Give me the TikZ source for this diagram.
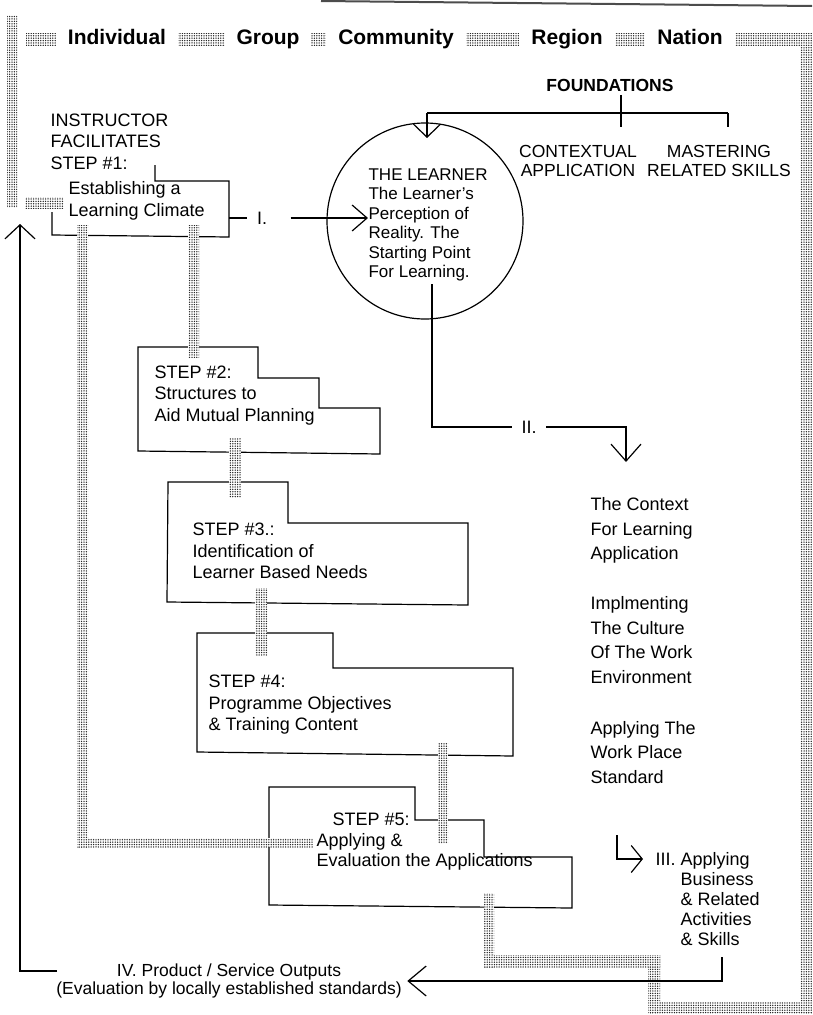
\documentclass[tikz,border=0pt]{standalone}
\usepackage{fontspec}
\setmainfont{Liberation Sans}
\usetikzlibrary{patterns,arrows.meta}

\pgfdeclarepatternformonly{stipple}{\pgfqpoint{-1pt}{-1pt}}{\pgfqpoint{2pt}{2pt}}{\pgfqpoint{2.4pt}{2.4pt}}%
  {\pgfpathcircle{\pgfqpoint{0pt}{0pt}}{.75pt}\pgfusepath{fill}}

\tikzset{
  stip/.style={preaction={fill=white}, pattern=stipple, pattern color=black!85},
  stepline/.style={line width=1.2pt, line join=miter},
  vhead/.style={-{Straight Barb[length=15pt,width=30pt]}},
  txt/.style={inner sep=0pt, anchor=west, align=left, font=\fontsize{18}{21.5}\selectfont},
  coltxt/.style={txt, font=\fontsize{18}{24.5}\selectfont},
  hdr/.style={fill=white, inner xsep=12pt, inner ysep=1pt, text height=15pt, text depth=4pt,
    font=\fontsize{21}{24}\selectfont\bfseries},
  caps/.style={align=center, inner sep=0pt, font=\fontsize{17.5}{18.5}\selectfont},
  lab/.style={inner xsep=9pt, inner ysep=0pt, font=\fontsize{18}{20}\selectfont}
}

\begin{document}
\begin{tikzpicture}[x=1pt,y=-1pt,line width=1.2pt]
\useasboundingbox (0,0) rectangle (812,1015);
% edge of the scanned sheet
\draw[line width=2pt, black!70] (321,1) -- (812,6);

% step boxes
\draw[stepline] (155,165) -- (155,181) -- (229,181) -- (229,237) -- (52,235) -- (52,212);
\draw[stepline] (138,347) -- (258,347) -- (258,378) -- (319,378) -- (319,408) -- (380,408) -- (380,454) -- (138,451) -- cycle;
\draw[stepline] (168,482) -- (288,482) -- (288,523) -- (468,523) -- (468,605) -- (167,602) -- cycle;
\draw[stepline] (197,633) -- (333,633) -- (333,668) -- (513,668) -- (513,756) -- (197,752) -- cycle;
\draw[stepline] (269,787) -- (415,787) -- (415,820) -- (484,820) -- (484,857) -- (572,857) -- (572,908) -- (269,905) -- cycle;

% stippled bands
\path[stip] (7,15) rectangle (17,207);
\path[stip] (25,197) rectangle (63,208);
\path[stip] (26,33) rectangle (812,45);
\path[stip] (800,33) rectangle (812,1013);
\path[stip] (650,1002) rectangle (812,1013);
\path[stip] (648,955) rectangle (660,1013);
\path[stip] (484,955) rectangle (660,967);
\path[stip] (484,893) rectangle (494,967);
\path[stip] (77,225) rectangle (88,847);
\path[stip] (77,838) rectangle (313,847);
\path[stip] (188,225) rectangle (199,357);
\path[stip] (229,438) rectangle (241,497);
\path[stip] (255,588) rectangle (267,655);
\path[stip] (438,743) rectangle (448,843);

% header row
\node[hdr] (hInd) at (117,39) {Individual};
\node[hdr] (hGrp) at (268,39) {Group};
\node[hdr] (hCom) at (396,39) {Community};
\node[hdr] (hReg) at (567,39) {Region};
\node[hdr] (hNat) at (690,39) {Nation};

% foundations
\node[caps, font=\fontsize{17.5}{18.5}\selectfont\bfseries] (found) at (610,85) {FOUNDATIONS};
\node[caps] (context) at (578,161) {CONTEXTUAL\\APPLICATION};
\node[caps] (master) at (719,161) {MASTERING\\RELATED SKILLS};
\coordinate (fx) at (621,0);
\coordinate (fL) at (427,113);
\coordinate (fR) at (728,113);
\coordinate (fTip) at (427,138);
\draw (fL) -- (fR);
\draw ([yshift=-3pt]found.south -| fx) -- ++(0,32);
\draw (fR) -- ++(0,14);
\draw[vhead, -{Straight Barb[length=13pt,width=27pt]}] (fL) -- (fTip);

% the learner
\node[draw, circle, minimum size=196pt, inner sep=0pt] (learner) at (425,221) {};
\node[txt, font=\fontsize{17}{19.4}\selectfont] (learnertxt) at (368,225)
  {THE LEARNER\\The Learner's\\Perception of\\Reality. The\\Starting Point\\For Learning.};

% steps
\node[txt] (instr) at (50,141.5) {INSTRUCTOR\\FACILITATES\\STEP \#1:};
\node[txt] (s1txt) at (68,201) {Establishing a\\Learning Climate};
\node[txt] (s2txt) at (154,395.5) {STEP \#2:\\Structures to\\Aid Mutual Planning};
\node[txt] (s3txt) at (192,551) {STEP \#3.:\\Identification of\\Learner Based Needs};
\node[txt] (s4txt) at (208,705) {STEP \#4:\\Programme Objectives\\\& Training Content};
\node[txt, font=\fontsize{18}{20.5}\selectfont] (s5txt) at (316,842)
  {\hspace*{16pt}STEP \#5:\\Applying \&\\Evaluation the Applications};

% context column
\node[coltxt] (ctx) at (590,530.5) {The Context\\For Learning\\Application};
\node[coltxt] (cult) at (590,640) {Implmenting\\The Culture\\Of The Work\\Environment};
\node[coltxt] (std) at (590,752.5) {Applying The\\Work Place\\Standard};

% III and IV
\node[txt] (labIII) at (655,859) {III.};
\node[txt, font=\fontsize{18}{20}\selectfont] (iiitxt) at (680,899)
  {Applying\\Business\\\& Related\\Activities\\\& Skills};
\node[align=center, inner sep=5pt, font=\fontsize{17.5}{18}\selectfont] (ivtxt) at (229,981)
  {IV. Product / Service Outputs\\(Evaluation by locally established standards)};

% connectors
\node[lab] (labI) at (262,218) {I.};
\draw (229,218) -- (labI.west);
\draw[vhead, -{Straight Barb[length=15pt,width=26pt]}] ([xshift=14pt]labI.east) -- (labI -| learnertxt.west);

\coordinate (iiTop) at (432,284);
\coordinate (iiEnd) at (626,462);
\node[lab] (labII) at (529,427) {II.};
\draw (iiTop) |- (labII.west);
\draw[vhead, -{Straight Barb[length=17pt,width=30pt]}] (labII.east) -| (iiEnd);

\coordinate (iiiTop) at (617,835);
\draw[vhead, -{Straight Barb[length=11pt,width=27pt]}] (iiiTop) |- ([xshift=-12pt]labIII.west);

\coordinate (skB) at (722,957);
\draw[vhead, -{Straight Barb[length=18pt,width=30pt]}] (skB) |- (ivtxt.east);

\coordinate (ivL) at (57,971);
\coordinate (upTip) at (20,224);
\draw[vhead, -{Straight Barb[length=14pt,width=30pt]}] (ivL) -| (upTip);
\end{tikzpicture}
\end{document}
